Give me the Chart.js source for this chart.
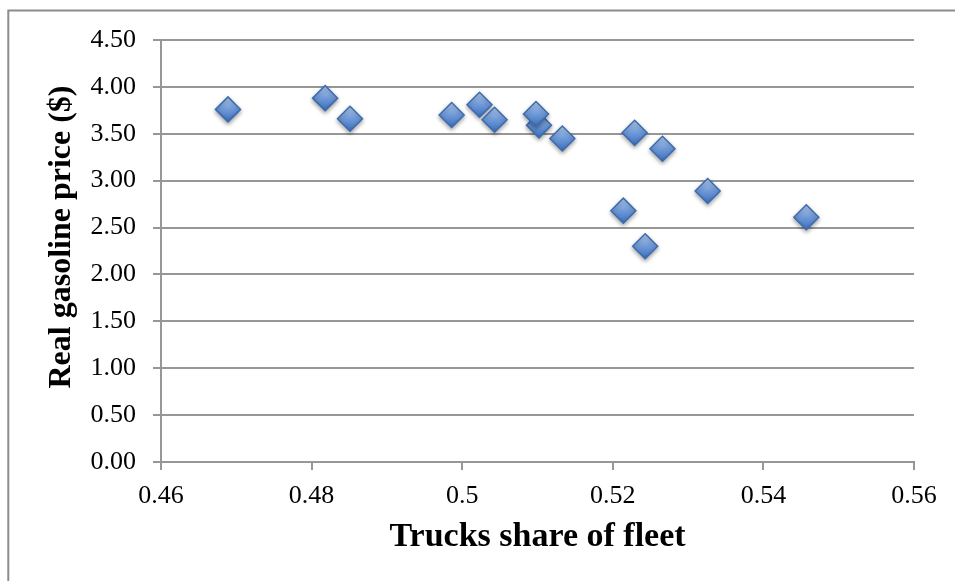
<!DOCTYPE html>
<html>
<head>
<meta charset="utf-8">
<script src="https://cdn.jsdelivr.net/npm/chart.js@4/dist/chart.umd.min.js"></script>
<style>
  html, body { margin: 0; padding: 0; background: #ffffff; }
  #wrap { width: 955px; height: 581px; }
</style>
</head>
<body>
<div id="wrap"><canvas id="c" width="955" height="581"></canvas></div>
<script>
// Share of trucks in the light-vehicle fleet vs. real gasoline price, one point per year
const truckShare = [0.4689, 0.4818, 0.4851, 0.4986, 0.5023, 0.5043, 0.5102, 0.5098, 0.5133, 0.5229, 0.5266, 0.5214, 0.5243, 0.5326, 0.5457];
const gasPrice   = [3.76,   3.88,   3.66,   3.70,   3.81,   3.65,   3.59,   3.71,   3.45,   3.51,   3.34,   2.68,   2.30,   2.89,   2.61];

const xTickLabels = ['0.46', '0.48', '0.5', '0.52', '0.54', '0.56'];
const yTickLabels = ['0.00', '0.50', '1.00', '1.50', '2.00', '2.50', '3.00', '3.50', '4.00', '4.50'];

const xTitle = 'Trucks share of fleet';
const yTitle = 'Real gasoline price ($)';

const points = truckShare.map((x, i) => ({ x: x, y: gasPrice[i] }));

const GRID = '#979797';
const SERIF = '"Liberation Serif", "Times New Roman", serif';

// diamond fill: light blue at the top shading to a deeper blue at the bottom
function diamondFill(ctx) {
  const chart = ctx.chart;
  const ys = chart.scales && chart.scales.y;
  if (ctx.type !== 'data' || !ys || !ctx.raw) return '#5b8bd0';
  const py = ys.getPixelForValue(ctx.raw.y);
  if (!isFinite(py)) return '#5b8bd0';
  const g = chart.ctx.createLinearGradient(0, py - 12, 0, py + 12);
  g.addColorStop(0, '#b3cdf0');
  g.addColorStop(0.5, '#6f9ada');
  g.addColorStop(1, '#3f72bd');
  return g;
}

// soft drop shadow under the markers
const markerShadow = {
  id: 'markerShadow',
  beforeDatasetsDraw(chart) {
    const c = chart.ctx;
    c.save();
    c.shadowColor = 'rgba(0,0,0,0.35)';
    c.shadowBlur = 4;
    c.shadowOffsetX = 0;
    c.shadowOffsetY = 2;
  },
  afterDatasetsDraw(chart) {
    chart.ctx.restore();
  }
};

// vertical axis title, rotated, sitting a little above the middle of the value axis
const yAxisTitle = {
  id: 'yAxisTitle',
  afterDraw(chart) {
    const c = chart.ctx;
    const area = chart.chartArea;
    c.save();
    c.translate(62, (area.top + area.bottom) / 2 - 14);
    c.rotate(-Math.PI / 2);
    c.fillStyle = '#000';
    c.font = 'bold 32px ' + SERIF;
    c.textAlign = 'center';
    c.textBaseline = 'middle';
    c.fillText(yTitle, 0, 0);
    c.restore();
  }
};

// thin grey frame round the whole chart
const outerFrame = {
  id: 'outerFrame',
  afterDraw(chart) {
    const c = chart.ctx;
    c.save();
    c.strokeStyle = '#8c8c8c';
    c.lineWidth = 2;
    c.strokeRect(8.3, 10.5, chart.width + 40, chart.height + 40);
    c.restore();
  }
};

new Chart(document.getElementById('c'), {
  type: 'scatter',
  data: {
    datasets: [{
      data: points,
      pointStyle: 'rectRot',
      pointRadius: 12.5,
      pointHoverRadius: 12.5,
      pointBorderWidth: 1.5,
      pointBorderColor: '#3b6cb0',
      pointBackgroundColor: diamondFill
    }]
  },
  options: {
    responsive: false,
    animation: false,
    devicePixelRatio: 1,
    events: [],
    layout: { padding: { left: 0, right: 41, top: 40, bottom: 0 } },
    plugins: {
      legend: { display: false },
      tooltip: { enabled: false }
    },
    scales: {
      x: {
        type: 'linear',
        min: 0.46,
        max: 0.56,
        afterFit(scale) { scale.height = 119; },
        afterBuildTicks(scale) {
          scale.ticks = xTickLabels.map(t => ({ value: parseFloat(t) }));
        },
        ticks: {
          callback: (v, i) => xTickLabels[i],
          color: '#000',
          font: { family: SERIF, size: 26 },
          padding: 11,
          maxRotation: 0,
          autoSkip: false
        },
        grid: {
          drawOnChartArea: false,
          drawTicks: true,
          tickLength: 8,
          color: GRID,
          lineWidth: 2
        },
        border: { display: true, color: GRID, width: 2 },
        title: {
          display: true,
          text: xTitle,
          color: '#000',
          font: { family: SERIF, size: 34, weight: 'bold' },
          padding: { top: 0, bottom: 23 }
        }
      },
      y: {
        type: 'linear',
        min: 0,
        max: 4.5,
        afterFit(scale) { scale.width = 161; },
        afterBuildTicks(scale) {
          scale.ticks = yTickLabels.map(t => ({ value: parseFloat(t) }));
        },
        ticks: {
          callback: (v, i) => yTickLabels[i],
          color: '#000',
          font: { family: SERIF, size: 26 },
          padding: 17,
          autoSkip: false
        },
        grid: {
          drawOnChartArea: true,
          drawTicks: true,
          tickLength: 8,
          color: GRID,
          lineWidth: 2
        },
        border: { display: true, color: GRID, width: 2 },
        title: { display: false }
      }
    }
  },
  plugins: [markerShadow, yAxisTitle, outerFrame]
});
</script>
</body>
</html>
